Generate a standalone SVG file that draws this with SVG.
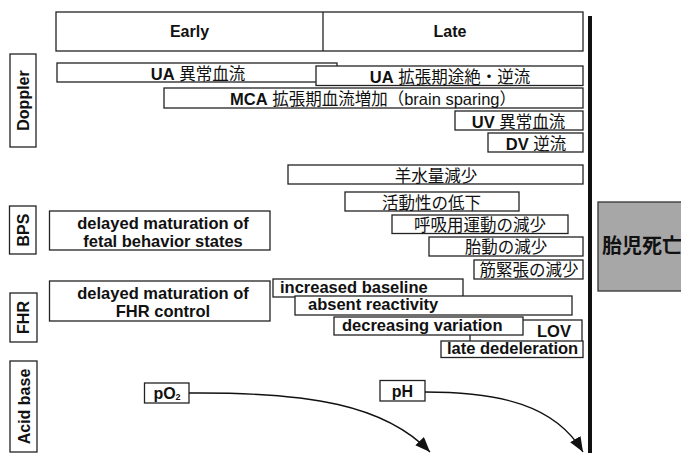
<svg xmlns="http://www.w3.org/2000/svg" width="681" height="453" viewBox="0 0 681 453">
<style>
.b{fill:#fff;stroke:#222;stroke-width:1.3}
.t{font-family:"Liberation Sans","Noto Sans CJK JP",sans-serif;font-size:16.5px;fill:#111}
.bd{font-weight:bold}
.c{text-anchor:middle}
.lab{font-family:"Liberation Sans",sans-serif;font-size:16px;font-weight:bold;fill:#111;text-anchor:middle}
.cn{stroke:#111;stroke-width:1.4;fill:none}
</style>
<defs>
<marker id="ah" markerUnits="userSpaceOnUse" markerWidth="16" markerHeight="12" refX="15" refY="6" orient="auto">
<path d="M0,0 L15,6 L0,12 Z" fill="#111"/>
</marker>
</defs>
<rect width="681" height="453" fill="#fff"/>

<g id="header">
<rect class="b" x="56" y="12" width="527" height="39" stroke-width="1.5"/>
<line x1="323" y1="12" x2="323" y2="51" stroke="#222" stroke-width="1.3"/>
<text class="lab" x="189.5" y="37">Early</text>
<text class="lab" x="450" y="37">Late</text>
</g>

<g id="timeline">
<line x1="590" y1="16" x2="590" y2="453" stroke="#111" stroke-width="4"/>
</g>

<g id="label-doppler">
<rect class="b" x="10" y="54" width="26" height="93"/>
<text class="lab" transform="translate(29,100.5) rotate(-90)">Doppler</text>
</g>
<g id="label-bps">
<rect class="b" x="9.5" y="206" width="26.5" height="48"/>
<text class="lab" transform="translate(28.5,230) rotate(-90)">BPS</text>
</g>
<g id="label-fhr">
<rect class="b" x="10" y="293" width="27" height="49"/>
<text class="lab" transform="translate(29,317.5) rotate(-90)">FHR</text>
</g>
<g id="label-acid">
<rect class="b" x="10" y="361" width="27" height="91"/>
<text class="lab" transform="translate(29.5,406.5) rotate(-90)">Acid base</text>
</g>

<g id="ua-abnormal">
<rect class="b" x="57" y="63" width="280" height="19"/>
<text class="t c" x="198" y="80"><tspan class="bd">UA</tspan> 異常血流</text>
</g>
<g id="ua-reverse">
<rect class="b" x="316" y="66" width="267" height="19.5"/>
<text class="t c" x="450" y="83"><tspan class="bd">UA</tspan> 拡張期途絶・逆流</text>
</g>
<g id="mca">
<rect class="b" x="164" y="88" width="419" height="20"/>
<text class="t c" x="373" y="105" font-size="17.3"><tspan class="bd">MCA</tspan> 拡張期血流増加（brain sparing）</text>
</g>
<g id="uv">
<rect class="b" x="455" y="111" width="128" height="19"/>
<text class="t c" x="518.5" y="127.5"><tspan class="bd">UV</tspan> 異常血流</text>
</g>
<g id="dv">
<rect class="b" x="488" y="133" width="95" height="19"/>
<text class="t c" x="536" y="149.5"><tspan class="bd">DV</tspan> 逆流</text>
</g>

<g id="bps-early">
<rect class="b" x="49.5" y="211" width="220.5" height="39"/>
<text class="t c bd" x="163" y="229">delayed maturation of</text>
<text class="t c bd" x="163" y="247">fetal behavior states</text>
</g>
<g id="amniotic">
<rect class="b" x="288" y="165" width="295" height="19"/>
<text class="t c" x="436" y="181.5">羊水量減少</text>
</g>
<g id="activity">
<rect class="b" x="345" y="192" width="174" height="19"/>
<text class="t c" x="431.5" y="208.5">活動性の低下</text>
</g>
<g id="breathing">
<rect class="b" x="392" y="215" width="176" height="18.5"/>
<text class="t c" x="480" y="231">呼吸用運動の減少</text>
</g>
<g id="movement">
<rect class="b" x="429" y="237" width="154" height="19"/>
<text class="t c" x="506" y="253">胎動の減少</text>
</g>
<g id="tone">
<rect class="b" x="474" y="260" width="109" height="19"/>
<text class="t c" x="529" y="276">筋緊張の減少</text>
</g>

<g id="fhr-early">
<rect class="b" x="49.5" y="281" width="220.5" height="40"/>
<text class="t c bd" x="163" y="299">delayed maturation of</text>
<text class="t c bd" x="163" y="317">FHR control</text>
</g>
<g id="increased-baseline">
<rect class="b" x="273" y="279" width="190" height="18"/>
<text class="t bd" x="280" y="292.5">increased baseline</text>
</g>
<g id="absent-reactivity">
<rect class="b" x="295" y="296" width="277" height="19"/>
<text class="t bd" x="308" y="309.5">absent reactivity</text>
</g>
<g id="lov">
<rect class="b" x="470" y="320" width="112" height="24"/>
<text class="t bd" x="537" y="337">LOV</text>
</g>
<g id="decreasing-variation">
<rect class="b" x="334" y="317" width="189" height="18"/>
<text class="t bd" x="342" y="330.5">decreasing variation</text>
</g>
<g id="late-deceleration">
<rect class="b" x="441" y="341" width="142" height="16.5"/>
<text class="t bd" x="447" y="353.5">late dedeleration</text>
</g>

<g id="fetal-death">
<rect x="598" y="202" width="90" height="89" fill="#a7a7a7" stroke="#333" stroke-width="1.3"/>
<text x="602" y="253" font-family="'Noto Sans CJK JP',sans-serif" font-size="20" font-weight="bold" fill="#111">胎児死亡</text>
</g>

<g id="po2">
<rect class="b" x="144.5" y="383" width="44.5" height="20"/>
<text class="lab" x="167" y="399" font-size="15.5">pO<tspan font-size="9" dy="1">2</tspan></text>
</g>
<g id="ph">
<rect class="b" x="380" y="380.5" width="45" height="20.5"/>
<text class="lab" x="402.5" y="396.5" font-size="15.5">pH</text>
</g>

<g id="connectors">
<path class="cn" d="M189,393 C310,392 385,405 430,452" marker-end="url(#ah)"/>
<path class="cn" d="M425,392 C500,392 555,405 583,452" marker-end="url(#ah)"/>
</g>
</svg>
